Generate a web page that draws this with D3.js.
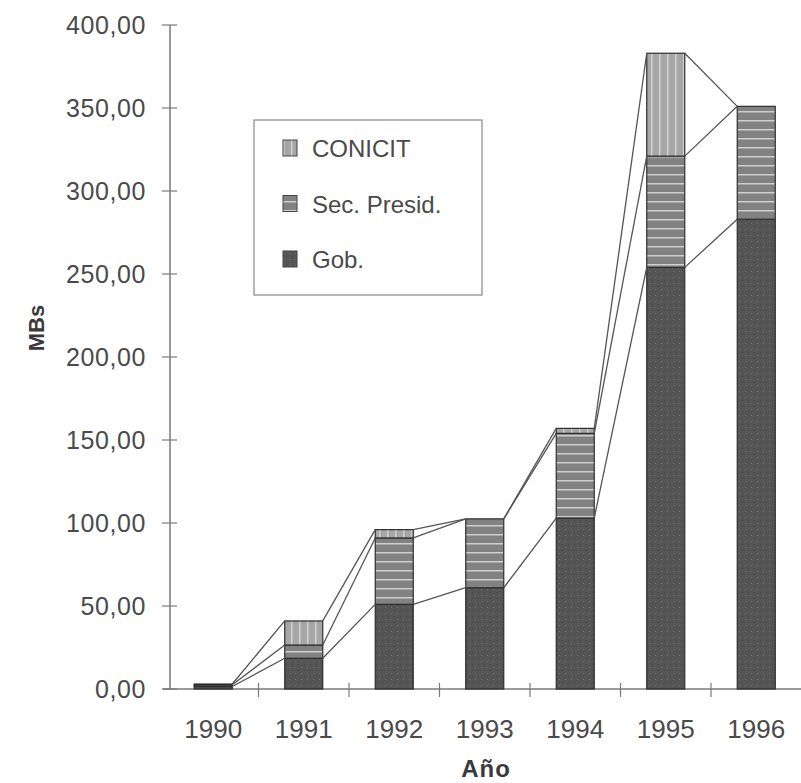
<!DOCTYPE html>
<html>
<head>
<meta charset="utf-8">
<script src="https://cdn.jsdelivr.net/npm/d3@7"></script>
<style>
  body { margin: 0; background: #fff; }
  svg { display: block; font-family: "Liberation Sans", Arial, sans-serif; }
</style>
</head>
<body>
<div id="chart"></div>
<script>
// Data (MBs per year)
const years = ["1990", "1991", "1992", "1993", "1994", "1995", "1996"];
const gob = [1.5, 18.5, 51, 61, 103, 254, 283];
const secPresid = [1, 8, 40, 41.5, 51, 67, 68];
const conicit = [0.5, 14.5, 5, 0, 3, 62, 0];
const yTicks = [0, 50, 100, 150, 200, 250, 300, 350, 400];

const series = [
  { key: "Gob.", values: gob, fill: "url(#pGob)" },
  { key: "Sec. Presid.", values: secPresid, fill: "url(#pSec)" },
  { key: "CONICIT", values: conicit, fill: "url(#pCon)" }
];

const width = 801, height = 783;
const svg = d3.select("#chart").append("svg")
  .attr("width", width)
  .attr("height", height);

// fill patterns, grey like the scanned print
const defs = svg.append("defs");
const pg = defs.append("pattern").attr("id", "pGob")
  .attr("patternUnits", "userSpaceOnUse").attr("width", 6).attr("height", 6);
pg.append("rect").attr("width", 6).attr("height", 6).attr("fill", "#555");
pg.append("rect").attr("x", 1).attr("y", 1).attr("width", 1).attr("height", 1).attr("fill", "#707070");
pg.append("rect").attr("x", 4).attr("y", 4).attr("width", 1).attr("height", 1).attr("fill", "#444");

const ps = defs.append("pattern").attr("id", "pSec")
  .attr("patternUnits", "userSpaceOnUse").attr("width", 8).attr("height", 9);
ps.append("rect").attr("width", 8).attr("height", 9).attr("fill", "#828282");
ps.append("rect").attr("y", 3).attr("width", 8).attr("height", 1.5).attr("fill", "#cfcfcf");

const pc = defs.append("pattern").attr("id", "pCon")
  .attr("patternUnits", "userSpaceOnUse").attr("width", 8).attr("height", 8);
pc.append("rect").attr("width", 8).attr("height", 8).attr("fill", "#a6a6a6");
pc.append("rect").attr("x", 3).attr("width", 1.5).attr("height", 8).attr("fill", "#d2d2d2");

const x = d3.scaleBand()
  .domain(years)
  .range([168, 801.5])
  .paddingInner(0.58)
  .paddingOuter(0.29);

const y = d3.scaleLinear()
  .domain([0, 400])
  .range([689, 25]);

const fmt = v => d3.format(".2f")(v).replace(".", ",");

// stacked values
const stack = d3.stack()
  .keys([0, 1, 2])
  .value((d, k) => series[k].values[d]);
const stacked = stack(d3.range(years.length));

// axes
const axisColor = "#7a7a7a";
const textColor = "#4a4a4a";
svg.append("line")
  .attr("x1", 170).attr("x2", 170)
  .attr("y1", y(400)).attr("y2", y(0))
  .attr("stroke", axisColor).attr("stroke-width", 1.5);
svg.append("line")
  .attr("x1", 163).attr("x2", 801)
  .attr("y1", y(0)).attr("y2", y(0))
  .attr("stroke", axisColor).attr("stroke-width", 1.5);

svg.selectAll(".ytick")
  .data(yTicks)
  .join("line")
  .attr("x1", 162).attr("x2", 177)
  .attr("y1", d => y(d)).attr("y2", d => y(d))
  .attr("stroke", axisColor).attr("stroke-width", 1.2);

svg.selectAll(".ylab")
  .data(yTicks)
  .join("text")
  .attr("x", 146)
  .attr("y", d => y(d) + 9)
  .attr("text-anchor", "end")
  .attr("font-size", 25)
  .attr("letter-spacing", 0.6)
  .attr("fill", textColor)
  .text(d => fmt(d));

// x ticks sit between categories
const step = x.step();
svg.selectAll(".xtick")
  .data(years.slice(1))
  .join("line")
  .attr("x1", d => x(d) - (step - x.bandwidth()) / 2)
  .attr("x2", d => x(d) - (step - x.bandwidth()) / 2)
  .attr("y1", y(0) - 6).attr("y2", y(0) + 8)
  .attr("stroke", axisColor).attr("stroke-width", 1.2);

svg.selectAll(".xlab")
  .data(years)
  .join("text")
  .attr("x", d => x(d) + x.bandwidth() / 2)
  .attr("y", 738)
  .attr("text-anchor", "middle")
  .attr("font-size", 26)
  .attr("fill", textColor)
  .text(d => d);

svg.append("text")
  .attr("x", 486)
  .attr("y", 777)
  .attr("text-anchor", "middle")
  .attr("font-size", 24)
  .attr("letter-spacing", 1)
  .attr("font-weight", "bold")
  .attr("fill", "#3a3a3a")
  .text("Año");

svg.append("text")
  .attr("transform", "translate(44,328) rotate(-90)")
  .attr("text-anchor", "middle")
  .attr("font-size", 22)
  .attr("font-weight", "bold")
  .attr("fill", "#3a3a3a")
  .text("MBs");

// bars
stacked.forEach((layer, k) => {
  svg.append("g")
    .selectAll("rect")
    .data(layer)
    .join("rect")
    .attr("x", d => x(years[d.data]))
    .attr("y", d => y(d[1]))
    .attr("width", x.bandwidth())
    .attr("height", d => Math.max(0, y(d[0]) - y(d[1])))
    .attr("fill", series[k].fill)
    .attr("stroke", "#2e2e2e")
    .attr("stroke-width", 1.2);
});

// series lines joining segment tops between neighbouring bars
stacked.forEach(layer => {
  svg.append("g")
    .selectAll("line")
    .data(layer.slice(0, -1))
    .join("line")
    .attr("x1", d => x(years[d.data]) + x.bandwidth())
    .attr("y1", d => y(d[1]))
    .attr("x2", d => x(years[d.data + 1]))
    .attr("y2", d => y(layer[d.data + 1][1]))
    .attr("stroke", "#555")
    .attr("stroke-width", 1.3);
});

// legend
const lg = svg.append("g");
lg.append("rect")
  .attr("x", 254).attr("y", 120)
  .attr("width", 228).attr("height", 175)
  .attr("fill", "#fff")
  .attr("stroke", "#888").attr("stroke-width", 1.2);
const legendItems = series.slice().reverse();
legendItems.forEach((s, i) => {
  const cy = 148 + i * 55.5;
  lg.append("rect")
    .attr("x", 283).attr("y", cy - 8)
    .attr("width", 14).attr("height", 16)
    .attr("fill", s.fill)
    .attr("stroke", "#444");
  lg.append("text")
    .attr("x", 312).attr("y", cy + 9)
    .attr("font-size", 24)
    .attr("fill", textColor)
    .text(s.key);
});
</script>
</body>
</html>
